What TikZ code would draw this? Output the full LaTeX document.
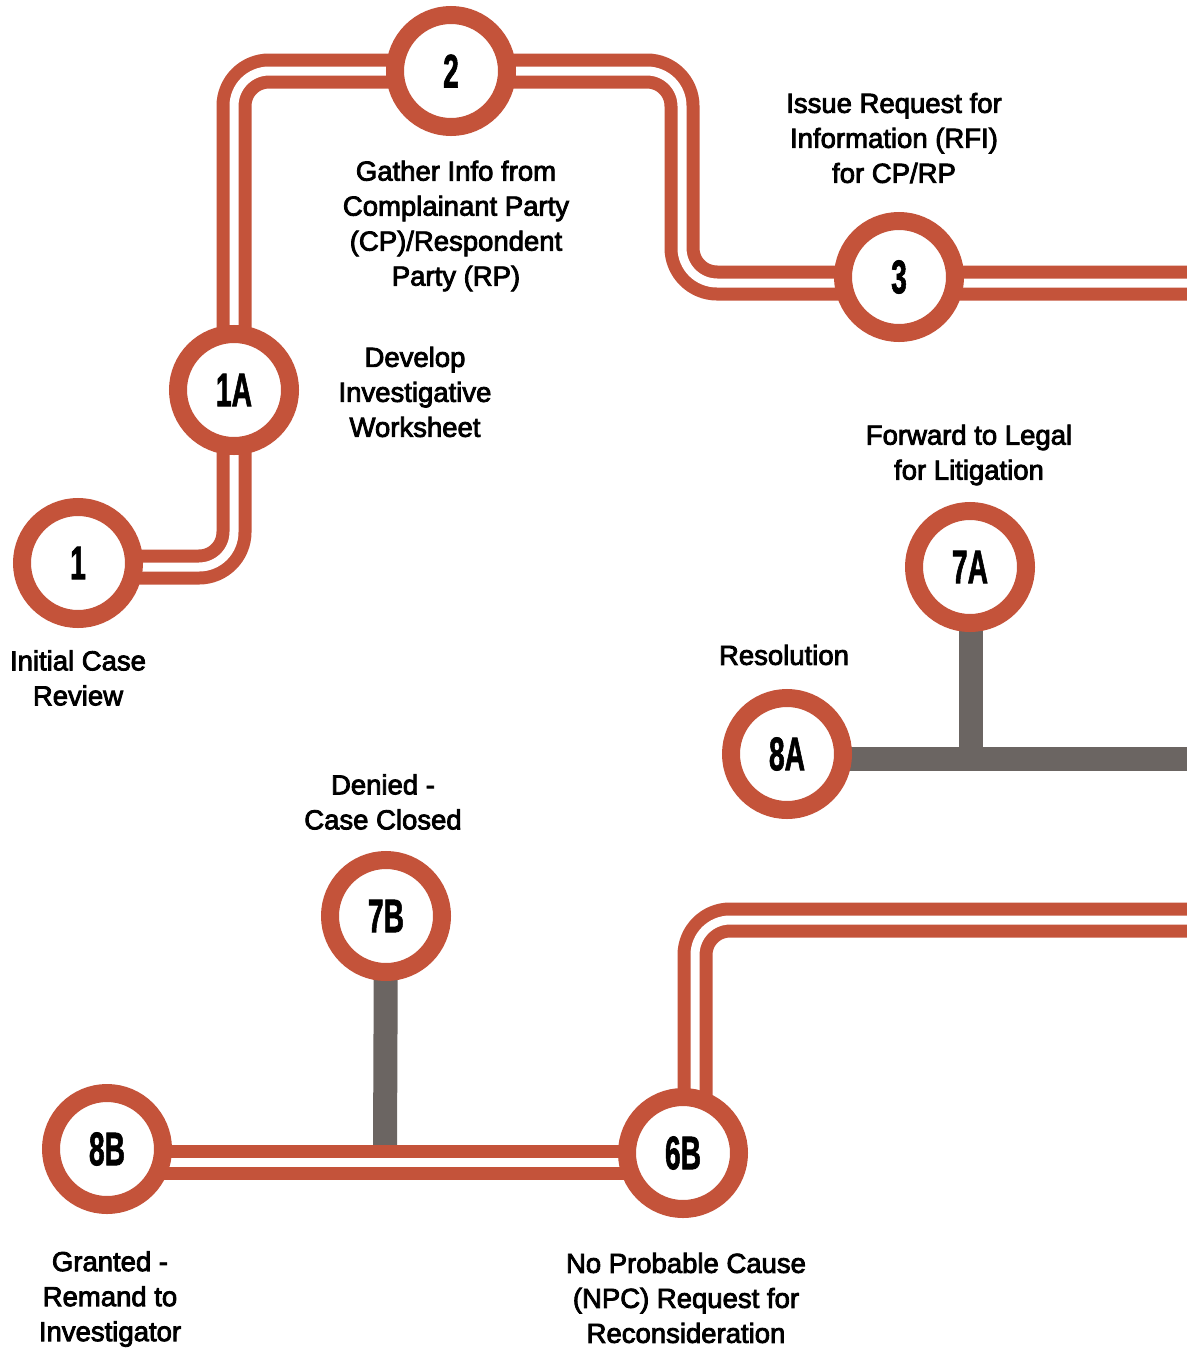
\documentclass[tikz,border=0pt]{standalone}
\usepackage{fontspec}
\setmainfont{Liberation Sans}
\newfontfamily\lblfont{Liberation Sans}[RawFeature={embolden=3}]
\newfontfamily\numfont{Liberation Sans}[BoldFeatures={FakeBold=1.8}]
\usetikzlibrary{backgrounds}
\definecolor{rd}{HTML}{C4533A}
\definecolor{gr}{HTML}{6B6562}
\newcommand\numtxt[1]{\scalebox{0.6}[1]{#1}}
\begin{document}
\begin{tikzpicture}[x=1pt,y=-1pt,
  stn/.style={circle, draw=rd, fill=white, line width=18pt, minimum size=112pt, inner sep=0pt,
    font=\numfont\bfseries\fontsize{47}{47}\selectfont},
  lbl/.style={align=center, inner sep=0pt, font=\lblfont\fontsize{27.5}{35}\selectfont},
  redline/.style={draw=rd, line width=13pt, double=white, double distance=9pt, rounded corners=35pt},
  grayline/.style={draw=gr, line width=24pt}]
\useasboundingbox (0,0) rectangle (1186,1349);
\clip (0,0) rectangle (1186,1349);
% stations
\node[stn] (n1)  at (78,563)   {\numtxt{1}};
\node[stn] (n1A) at (234,390)  {\numtxt{1A}};
\node[stn] (n2)  at (451,71)   {\numtxt{2}};
\node[stn] (n3)  at (899,277)  {\numtxt{3}};
\node[stn] (n7A) at (970,567)  {\numtxt{7A}};
\node[stn] (n8A) at (787,754)  {\numtxt{8A}};
\node[stn] (n7B) at (386,916)  {\numtxt{7B}};
\node[stn] (n8B) at (107,1149) {\numtxt{8B}};
\node[stn] (n6B) at (683,1153) {\numtxt{6B}};
% free ends
\coordinate (eR1) at (1190,283);
\coordinate (eG)  at (1190,759);
\coordinate (eR2) at (1190,920);
\coordinate (j7B) at (385,1150);
% connectors
\begin{scope}[on background layer]
\draw[redline] ([yshift=-4pt]n1.center) -| (n1A.center) |- (n2.center) -| (682,283)
   -- ([yshift=-6pt]n3.center) -- (eR1);
\draw[grayline] ([yshift=-5pt]n8A.center) -- (eG);
\draw[grayline] ([xshift=1pt]n7A.center) -- ([xshift=1pt]n7A.center |- eG);
\draw[redline] (eR2) -| ([xshift=12pt]n6B.center);
\draw[grayline] (n7B.center) -- (j7B);
\draw[redline] ([yshift=-13pt]n8B.center) -- ([yshift=-9pt]n6B.center);
\end{scope}
% labels
\node[lbl] (t1)  at (78,678)   {Initial Case\\Review};
\node[lbl] (t1A) at (415,392)  {Develop\\Investigative\\Worksheet};
\node[lbl] (t2)  at (456,226)  {Gather Info from\\Complainant Party\\(CP)/Respondent\\Party (RP)};
\node[lbl] (t3)  at (894,138)  {Issue Request for\\Information (RFI)\\for CP/RP};
\node[lbl] (t7A) at (969,455)  {Forward to Legal\\for Litigation};
\node[lbl] (t8A) at (784,655)  {Resolution};
\node[lbl] (t7B) at (383,802)  {Denied -\\Case Closed};
\node[lbl] (t8B) at (110,1299) {Granted -\\Remand to\\Investigator};
\node[lbl] (t6B) at (686,1298) {No Probable Cause\\(NPC) Request for\\Reconsideration};
\end{tikzpicture}
\end{document}
